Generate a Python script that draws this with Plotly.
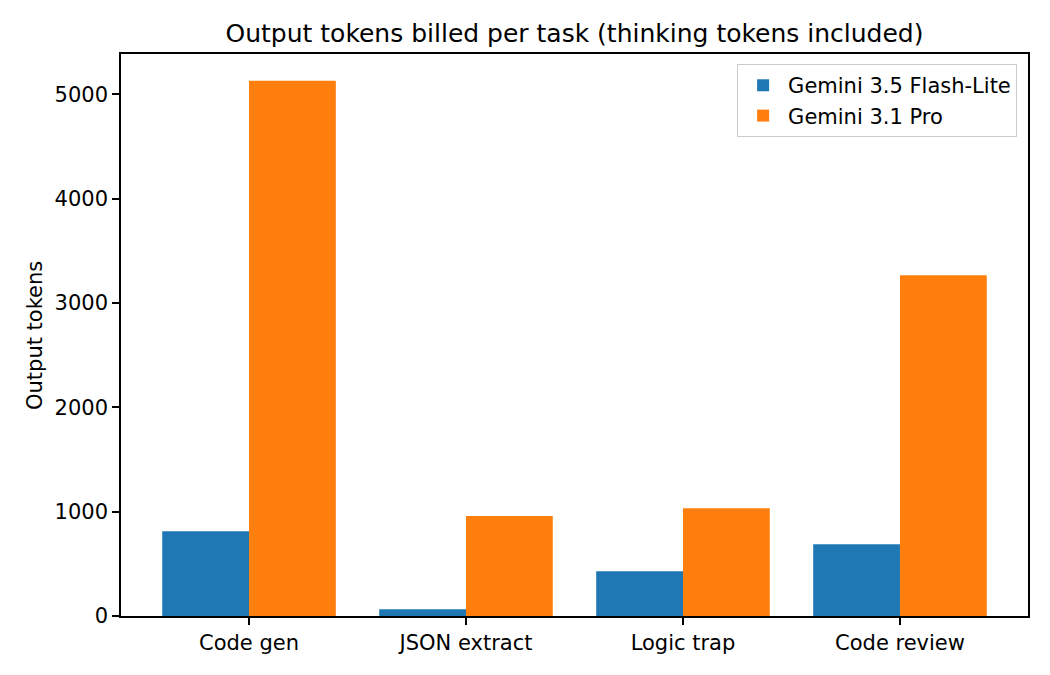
import plotly.graph_objects as go

categories = ["Code gen", "JSON extract", "Logic trap", "Code review"]
flash_lite = [812, 64, 429, 687]
pro = [5129, 959, 1033, 3266]
series_names = ["Gemini 3.5 Flash-Lite", "Gemini 3.1 Pro"]

FONT = "DejaVu Sans"
FS = 21
L, R, T, B = 121, 22, 54, 59
W, H = 1050, 675

fig = go.Figure()
fig.add_trace(go.Bar(x=categories, y=flash_lite, name=series_names[0],
                     marker=dict(color="#1f77b4", line=dict(width=0))))
fig.add_trace(go.Bar(x=categories, y=pro, name=series_names[1],
                     marker=dict(color="#ff7f0e", line=dict(width=0))))

fig.update_layout(
    width=W, height=H,
    margin=dict(l=L, r=R, t=T, b=B, pad=0),
    barmode="group", bargap=0.2, bargroupgap=0,
    plot_bgcolor="white", paper_bgcolor="white",
    font=dict(family=FONT, size=FS, color="black"),
    title=dict(text="Output tokens billed per task (thinking tokens included)",
               x=(L + (W - R)) / 2 / W, xanchor="center", xref="container",
               y=1 - 33 / H, yanchor="middle", yref="container",
               font=dict(family=FONT, size=25, color="black")),
    showlegend=True,
    legend=dict(x=0.988, xanchor="right", y=0.982, yanchor="top",
                bordercolor="#cccccc", borderwidth=1, bgcolor="rgba(255,255,255,0.8)",
                font=dict(family=FONT, size=FS, color="black"),
                itemwidth=40, tracegroupgap=4),
    xaxis=dict(range=[-0.59, 3.59], showline=True, linecolor="black", linewidth=1.5,
               mirror=True, ticks="outside", ticklen=7, tickwidth=1.5, tickcolor="black",
               showgrid=False, zeroline=False,
               tickfont=dict(family=FONT, size=FS, color="black")),
    yaxis=dict(range=[0, 5385], showline=True, linecolor="black", linewidth=1.5,
               mirror=True, ticks="outside", ticklen=7, tickwidth=1.5, tickcolor="black",
               showgrid=False, zeroline=False, tickvals=[0, 1000, 2000, 3000, 4000, 5000],
               tickfont=dict(family=FONT, size=FS, color="black")),
    annotations=[dict(text="Output tokens", textangle=-90,
                      x=(35 - L) / (W - L - R), y=(H - B - 336) / (H - T - B),
                      xref="paper", yref="paper", showarrow=False,
                      xanchor="center", yanchor="middle",
                      font=dict(family=FONT, size=FS, color="black"))],
)

fig.write_html("out.html")
